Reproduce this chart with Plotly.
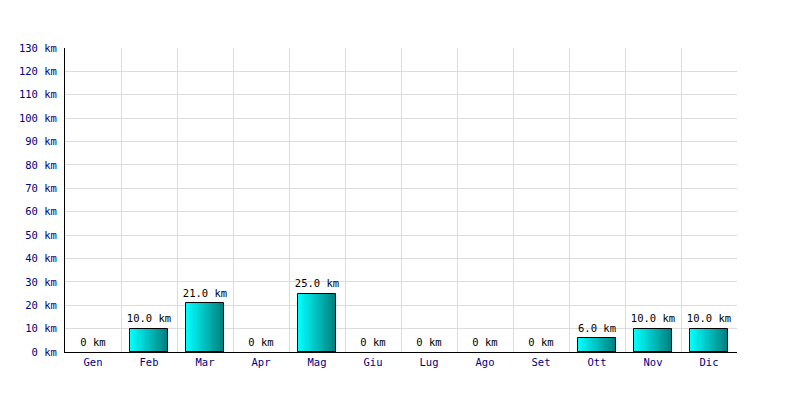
import plotly.graph_objects as go

months = ["Gen", "Feb", "Mar", "Apr", "Mag", "Giu", "Lug", "Ago", "Set", "Ott", "Nov", "Dic"]
km = [0, 10.0, 21.0, 0, 25.0, 0, 0, 0, 0, 6.0, 10.0, 10.0]
labels = ["0 km" if v == 0 else f"{v:.1f} km" for v in km]

xs = list(range(len(months)))
bar_y = [v if v else None for v in km]
bar_w = 0.68
n_slices = 24
c0 = (0, 255, 255)
c1 = (0, 128, 128)

fig = go.Figure()
sw = bar_w / n_slices
for i in range(n_slices):
    t = i / (n_slices - 1)
    col = "rgb({},{},{})".format(*[round(a + (b - a) * t) for a, b in zip(c0, c1)])
    fig.add_trace(go.Bar(
        x=xs, y=bar_y, width=sw * 1.05, offset=-bar_w / 2 + i * sw,
        marker=dict(color=col, line=dict(width=0)), showlegend=False, hoverinfo="skip"))

fig.add_trace(go.Bar(
    x=xs, y=bar_y, width=bar_w,
    marker=dict(color="rgba(0,0,0,0)", line=dict(color="black", width=1)),
    showlegend=False))

fig.add_trace(go.Scatter(
    x=xs, y=km, mode="markers+text", text=labels, textposition="top center",
    marker=dict(size=4, opacity=0),
    textfont=dict(family="DejaVu Sans Mono", size=10.5, color="black"),
    showlegend=False, hoverinfo="skip"))

fig.update_layout(
    width=792, height=392,
    margin=dict(l=57, r=63, t=40, b=48, autoexpand=False),
    paper_bgcolor="white", plot_bgcolor="white",
    barmode="overlay", bargap=0,
    font=dict(family="DejaVu Sans Mono", size=10.5, color="#000080"),
    xaxis=dict(
        range=[-0.5, 11.5], tickmode="array", tickvals=xs, ticktext=months,
        showgrid=False, zeroline=False, showline=True, linecolor="black", linewidth=1,
        ticks="", ticklen=0, automargin=False,
        minor=dict(tickmode="array", tickvals=[i + 0.5 for i in range(12)],
                   showgrid=True, gridcolor="#dcdcdc", gridwidth=1, ticks=""),
    ),
    yaxis=dict(
        range=[0, 130], dtick=10, ticksuffix=" km", showgrid=True,
        gridcolor="#dcdcdc", gridwidth=1, zeroline=False, automargin=False,
        showline=True, linecolor="black", linewidth=1, ticks="", ticklabelstandoff=5,
    ),
)

fig.write_html("out.html")
